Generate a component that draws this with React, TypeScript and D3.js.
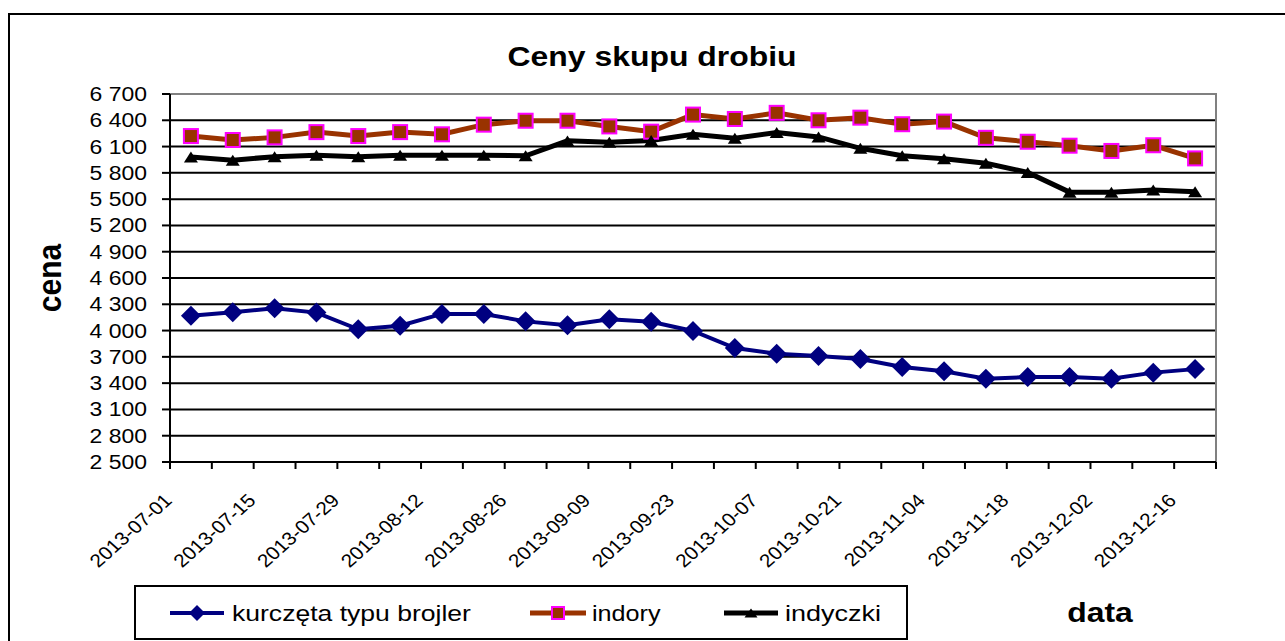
import React, { useEffect, useRef } from "react";
import * as d3 from "d3";

// weekly categories (start of each week)
const weeks = [
  "2013-07-01", "2013-07-08", "2013-07-15", "2013-07-22", "2013-07-29",
  "2013-08-05", "2013-08-12", "2013-08-19", "2013-08-26", "2013-09-02",
  "2013-09-09", "2013-09-16", "2013-09-23", "2013-09-30", "2013-10-07",
  "2013-10-14", "2013-10-21", "2013-10-28", "2013-11-04", "2013-11-11",
  "2013-11-18", "2013-11-25", "2013-12-02", "2013-12-09", "2013-12-16",
];

const brojler = [4170, 4210, 4255, 4205, 4015, 4055, 4190, 4190, 4105, 4060, 4130, 4100, 3995, 3800, 3735, 3710, 3675, 3585, 3535, 3450, 3470, 3470, 3450, 3520, 3560];
const indory = [6220, 6175, 6205, 6265, 6220, 6265, 6240, 6350, 6395, 6395, 6330, 6270, 6465, 6415, 6485, 6400, 6430, 6355, 6385, 6200, 6155, 6110, 6050, 6115, 5965];
const indyczki = [5980, 5945, 5985, 6000, 5985, 6000, 6000, 6000, 5995, 6165, 6150, 6170, 6240, 6195, 6260, 6210, 6080, 5995, 5960, 5910, 5805, 5580, 5580, 5605, 5585];

const yTicks = [2500, 2800, 3100, 3400, 3700, 4000, 4300, 4600, 4900, 5200, 5500, 5800, 6100, 6400, 6700];

const seriesNames = ["kurczęta typu brojler", "indory", "indyczki"];

const FONT = "'Liberation Sans', Arial, sans-serif";
const SX = 1.12; // the reference text is slightly stretched horizontally

export default function App() {
  const svgRef = useRef<SVGSVGElement | null>(null);

  useEffect(() => {
    if (!svgRef.current) return;
    const svg = d3.select(svgRef.current);
    svg.selectAll("*").remove();

    const width = 1285;
    const height = 641;
    const plot = { left: 170, right: 1216, top: 94, bottom: 462 };

    const x = d3.scaleBand<string>().domain(weeks).range([plot.left, plot.right]).padding(0);
    const y = d3.scaleLinear().domain([2500, 6700]).range([plot.bottom, plot.top]);
    const cx = (i: number) => (x(weeks[i]) ?? 0) + x.bandwidth() / 2;

    const fmt = (v: number) => d3.format(",")(v).replace(",", " ");

    const text = (
      g: d3.Selection<any, unknown, null, undefined>,
      tx: number,
      ty: number,
      s: string,
      size: number,
      opts: { anchor?: string; bold?: boolean; rotate?: number; baseline?: string; sx?: number } = {}
    ) =>
      g
        .append("text")
        .attr("transform", `translate(${tx},${ty}) scale(${opts.sx ?? SX},1)${opts.rotate ? ` rotate(${opts.rotate})` : ""}`)
        .attr("text-anchor", opts.anchor ?? "start")
        .attr("dominant-baseline", opts.baseline ?? "auto")
        .attr("font-family", FONT)
        .attr("font-size", size)
        .attr("font-weight", opts.bold ? "bold" : "normal")
        .attr("fill", "#000")
        .text(s);

    svg.attr("width", width).attr("height", height);
    svg.append("rect").attr("width", width).attr("height", height).attr("fill", "#fff");

    // outer chart frame
    svg
      .append("rect")
      .attr("x", 9)
      .attr("y", 14)
      .attr("width", 1400)
      .attr("height", 800)
      .attr("fill", "none")
      .attr("stroke", "#000")
      .attr("stroke-width", 2);

    const root = svg.append("g");

    // title
    text(root, 652, 66, "Ceny skupu drobiu", 28.5, { anchor: "middle", bold: true });

    // gridlines
    root
      .selectAll(".grid")
      .data(yTicks.slice(1, -1))
      .enter()
      .append("line")
      .attr("x1", plot.left)
      .attr("x2", plot.right)
      .attr("y1", (d) => y(d))
      .attr("y2", (d) => y(d))
      .attr("stroke", "#000")
      .attr("stroke-width", 2);

    // plot border (top + right in grey)
    root
      .append("path")
      .attr("d", `M${plot.left},${plot.top}H${plot.right}V${plot.bottom}`)
      .attr("fill", "none")
      .attr("stroke", "#808080")
      .attr("stroke-width", 2);

    // y axis
    root
      .append("line")
      .attr("x1", plot.left)
      .attr("x2", plot.left)
      .attr("y1", plot.top)
      .attr("y2", plot.bottom)
      .attr("stroke", "#000")
      .attr("stroke-width", 2);
    yTicks.forEach((v) => {
      root
        .append("line")
        .attr("x1", plot.left - 8)
        .attr("x2", plot.left)
        .attr("y1", y(v))
        .attr("y2", y(v))
        .attr("stroke", "#000")
        .attr("stroke-width", 2);
      text(root, 147, y(v), fmt(v), 20.5, { anchor: "end", baseline: "central" });
    });

    // x axis
    root
      .append("line")
      .attr("x1", plot.left)
      .attr("x2", plot.right)
      .attr("y1", plot.bottom)
      .attr("y2", plot.bottom)
      .attr("stroke", "#000")
      .attr("stroke-width", 2);
    const boundaries = weeks.map((w) => x(w) ?? 0).concat([plot.right]);
    boundaries.forEach((bx) => {
      root
        .append("line")
        .attr("x1", bx)
        .attr("x2", bx)
        .attr("y1", plot.bottom)
        .attr("y2", plot.bottom + 7)
        .attr("stroke", "#000")
        .attr("stroke-width", 2);
    });
    weeks.forEach((w, i) => {
      if (i % 2 !== 0) return;
      text(root, (x(w) ?? 0) - 2, plot.bottom + 35, w, 18.5, { anchor: "end", baseline: "central", rotate: -45 });
    });

    // axis titles
    text(root, 61, 278, "cena", 30, { anchor: "middle", bold: true, rotate: -90 });
    text(root, 1100, 622, "data", 28.5, { anchor: "middle", bold: true });

    // series
    const line = d3
      .line<number>()
      .x((_, i) => cx(i))
      .y((d) => y(d));

    const drawDiamond = (g: any, px: number, py: number, r: number) =>
      g
        .append("path")
        .attr("d", `M${px},${py - r}L${px + r},${py}L${px},${py + r}L${px - r},${py}Z`)
        .attr("fill", "#000080");
    const drawSquare = (g: any, px: number, py: number, s: number) =>
      g
        .append("rect")
        .attr("x", px - s / 2)
        .attr("y", py - s / 2)
        .attr("width", s)
        .attr("height", s)
        .attr("fill", "#993300")
        .attr("stroke", "#FF00FF")
        .attr("stroke-width", 2);
    const drawTriangle = (g: any, px: number, py: number, w: number, h: number) =>
      g
        .append("path")
        .attr("d", `M${px},${py - h / 2}L${px + w / 2},${py + h / 2}L${px - w / 2},${py + h / 2}Z`)
        .attr("fill", "#000");

    const gSeries = root.append("g");
    gSeries
      .append("path")
      .datum(brojler)
      .attr("d", line)
      .attr("fill", "none")
      .attr("stroke", "#000080")
      .attr("stroke-width", 4);
    gSeries
      .append("path")
      .datum(indory)
      .attr("d", line)
      .attr("fill", "none")
      .attr("stroke", "#993300")
      .attr("stroke-width", 5);
    gSeries
      .append("path")
      .datum(indyczki)
      .attr("d", line)
      .attr("fill", "none")
      .attr("stroke", "#000")
      .attr("stroke-width", 5);

    brojler.forEach((v, i) => drawDiamond(gSeries, cx(i), y(v), 10));
    indory.forEach((v, i) => drawSquare(gSeries, cx(i), y(v), 14));
    indyczki.forEach((v, i) => drawTriangle(gSeries, cx(i), y(v), 14, 11));

    // legend
    const lg = root.append("g");
    lg.append("rect")
      .attr("x", 135)
      .attr("y", 586)
      .attr("width", 772)
      .attr("height", 53)
      .attr("fill", "#fff")
      .attr("stroke", "#000")
      .attr("stroke-width", 2);
    const ly = 613;
    const items = [
      { x0: 170, x1: 224, tx: 232, color: "#000080", w: 4, sx: 1.18 },
      { x0: 530, x1: 586, tx: 592, color: "#993300", w: 5, sx: 1.12 },
      { x0: 724, x1: 778, tx: 785, color: "#000", w: 5, sx: 1.2 },
    ];
    items.forEach((it, k) => {
      lg.append("line")
        .attr("x1", it.x0)
        .attr("x2", it.x1)
        .attr("y1", ly)
        .attr("y2", ly)
        .attr("stroke", it.color)
        .attr("stroke-width", it.w);
      const mx = (it.x0 + it.x1) / 2;
      if (k === 0) drawDiamond(lg, mx, ly, 8);
      if (k === 1) drawSquare(lg, mx, ly, 12);
      if (k === 2) drawTriangle(lg, mx, ly, 13, 9);
      text(lg, it.tx, ly, seriesNames[k], 22.5, { baseline: "central", sx: it.sx });
    });
  }, []);

  return <svg ref={svgRef} style={{ position: "absolute", left: 0, top: 0, display: "block" }} />;
}
